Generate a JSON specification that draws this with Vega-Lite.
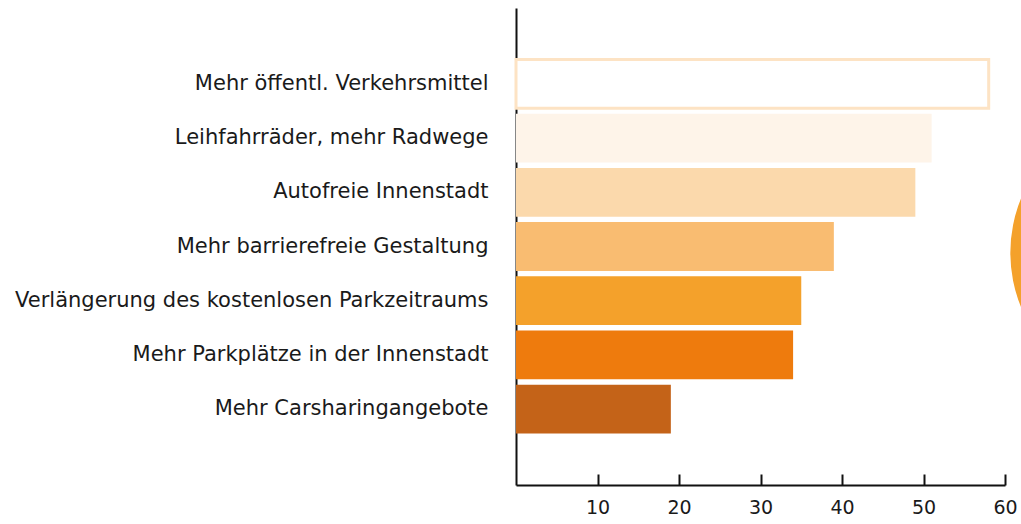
{
  "$schema": "https://vega.github.io/schema/vega-lite/v6.json",
  "width": 489,
  "height": 477,
  "autosize": "none",
  "padding": {"left": 516, "top": 8, "right": 16, "bottom": 39},
  "background": "white",
  "config": {
    "view": {"stroke": null},
    "font": "DejaVu Sans"
  },
  "datasets": {
    "bars": [
      {"massnahme": "Mehr öffentl. Verkehrsmittel", "wert": 58},
      {"massnahme": "Leihfahrräder, mehr Radwege", "wert": 51},
      {"massnahme": "Autofreie Innenstadt", "wert": 49},
      {"massnahme": "Mehr barrierefreie Gestaltung", "wert": 39},
      {"massnahme": "Verlängerung des kostenlosen Parkzeitraums", "wert": 35},
      {"massnahme": "Mehr Parkplätze in der Innenstadt", "wert": 34},
      {"massnahme": "Mehr Carsharingangebote", "wert": 19}
    ],
    "deko": [
      {"massnahme": "Mehr barrierefreie Gestaltung", "wert": 78.2}
    ]
  },
  "layer": [
    {
      "data": {"name": "bars"},
      "mark": {"type": "bar", "strokeWidth": 3},
      "encoding": {
        "y": {
          "field": "massnahme",
          "type": "nominal",
          "sort": null,
          "scale": {
            "domain": ["Mehr öffentl. Verkehrsmittel", "Leihfahrräder, mehr Radwege", "Autofreie Innenstadt", "Mehr barrierefreie Gestaltung", "Verlängerung des kostenlosen Parkzeitraums", "Mehr Parkplätze in der Innenstadt", "Mehr Carsharingangebote"],
            "paddingInner": 0.1,
            "paddingOuter": 0.95
          },
          "axis": {
            "title": null,
            "ticks": false,
            "domainColor": "#111111",
            "domainWidth": 2,
            "labelFontSize": 21,
            "labelColor": "#1a1a1a",
            "labelPadding": 28,
            "labelLimit": 600
          }
        },
        "x": {
          "field": "wert",
          "type": "quantitative",
          "scale": {"domain": [0, 60], "nice": false},
          "axis": {
            "title": null,
            "grid": false,
            "values": [10, 20, 30, 40, 50, 60],
            "tickSize": -11,
            "tickWidth": 2,
            "tickColor": "#111111",
            "domainColor": "#111111",
            "domainWidth": 2,
            "labelFontSize": 19,
            "labelColor": "#1a1a1a",
            "labelPadding": 24,
            "labelFlush": false
          }
        },
        "fill": {
          "field": "massnahme",
          "type": "nominal",
          "sort": null,
          "legend": null,
          "scale": {
            "domain": ["Mehr öffentl. Verkehrsmittel", "Leihfahrräder, mehr Radwege", "Autofreie Innenstadt", "Mehr barrierefreie Gestaltung", "Verlängerung des kostenlosen Parkzeitraums", "Mehr Parkplätze in der Innenstadt", "Mehr Carsharingangebote"],
            "range": ["#ffffff", "#fef4e9", "#fbd9ac", "#f9bc71", "#f4a12b", "#ee7b0d", "#c46318"]
          }
        },
        "stroke": {
          "field": "massnahme",
          "type": "nominal",
          "sort": null,
          "legend": null,
          "scale": {
            "domain": ["Mehr öffentl. Verkehrsmittel", "Leihfahrräder, mehr Radwege", "Autofreie Innenstadt", "Mehr barrierefreie Gestaltung", "Verlängerung des kostenlosen Parkzeitraums", "Mehr Parkplätze in der Innenstadt", "Mehr Carsharingangebote"],
            "range": ["#fde3c4", "transparent", "transparent", "transparent", "transparent", "transparent", "transparent"]
          }
        }
      }
    },
    {
      "data": {"name": "deko"},
      "mark": {"type": "circle", "opacity": 1, "size": 81800, "color": "#f4a12b", "clip": false},
      "encoding": {
        "y": {"field": "massnahme", "type": "nominal", "bandPosition": 0.63},
        "x": {"field": "wert", "type": "quantitative"}
      }
    }
  ]
}
